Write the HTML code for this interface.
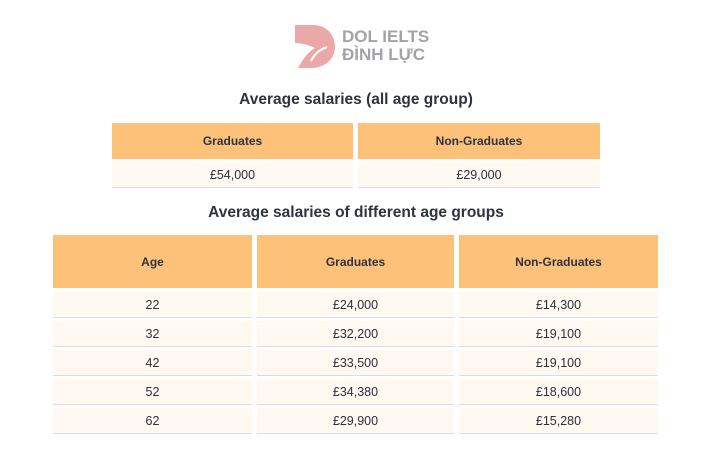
<!DOCTYPE html>
<html><head><style>
body{margin:0;width:712px;height:458px;background:#fff;position:relative;font-family:"Liberation Sans",Arial,sans-serif;color:#2d3340;overflow:hidden}
.a{position:absolute;display:flex;align-items:center;justify-content:center;font-size:12px;font-weight:bold}
.h{background:#fdc17a}
.r{background:#fff9f2;border-bottom:1.5px solid #dcdce2;box-sizing:border-box;font-weight:normal;font-size:12.5px;color:#2a303c}
.t{position:absolute;left:0;width:712px;text-align:center;font-weight:bold;font-size:15.5px}
</style></head><body>
<svg style="position:absolute;left:293px;top:23px" width="42" height="46" viewBox="0 0 42 46">
<path d="M2 2 H20 C34 2 42 12 42 24 C42 36 32 45 18 45 H5 C10 36 14 30 22 25 C16 22 9 20 2 20 Z" fill="#eaa8a8"/>
<path d="M18 38 C22 30 28 26 34 24" stroke="#fff" stroke-width="2" fill="none"/>
</svg>
<div style="position:absolute;left:342px;top:28px;font-size:17px;font-weight:bold;color:#a2a2aa;line-height:18px">DOL IELTS<br>ĐÌNH LỰC</div>
<div class="t" style="top:91px">Average salaries (all age group)</div>
<div class="a h" style="left:112px;top:123px;width:241px;height:36px">Graduates</div>
<div class="a h" style="left:358px;top:123px;width:242px;height:36px">Non-Graduates</div>
<div class="a r" style="left:112px;top:162px;width:241px;height:26px">£54,000</div>
<div class="a r" style="left:358px;top:162px;width:242px;height:26px">£29,000</div>
<div class="t" style="top:204px">Average salaries of different age groups</div>
<div class="a h" style="left:53px;top:235px;width:199px;height:53px">Age</div>
<div class="a h" style="left:257px;top:235px;width:197px;height:53px">Graduates</div>
<div class="a h" style="left:459px;top:235px;width:199px;height:53px">Non-Graduates</div>
<div class="a r" style="left:53px;top:292px;width:199px;height:26px">22</div>
<div class="a r" style="left:257px;top:292px;width:197px;height:26px">£24,000</div>
<div class="a r" style="left:459px;top:292px;width:199px;height:26px">£14,300</div>
<div class="a r" style="left:53px;top:321px;width:199px;height:26px">32</div>
<div class="a r" style="left:257px;top:321px;width:197px;height:26px">£32,200</div>
<div class="a r" style="left:459px;top:321px;width:199px;height:26px">£19,100</div>
<div class="a r" style="left:53px;top:350px;width:199px;height:26px">42</div>
<div class="a r" style="left:257px;top:350px;width:197px;height:26px">£33,500</div>
<div class="a r" style="left:459px;top:350px;width:199px;height:26px">£19,100</div>
<div class="a r" style="left:53px;top:379px;width:199px;height:26px">52</div>
<div class="a r" style="left:257px;top:379px;width:197px;height:26px">£34,380</div>
<div class="a r" style="left:459px;top:379px;width:199px;height:26px">£18,600</div>
<div class="a r" style="left:53px;top:408px;width:199px;height:26px">62</div>
<div class="a r" style="left:257px;top:408px;width:197px;height:26px">£29,900</div>
<div class="a r" style="left:459px;top:408px;width:199px;height:26px">£15,280</div>
</body></html>
